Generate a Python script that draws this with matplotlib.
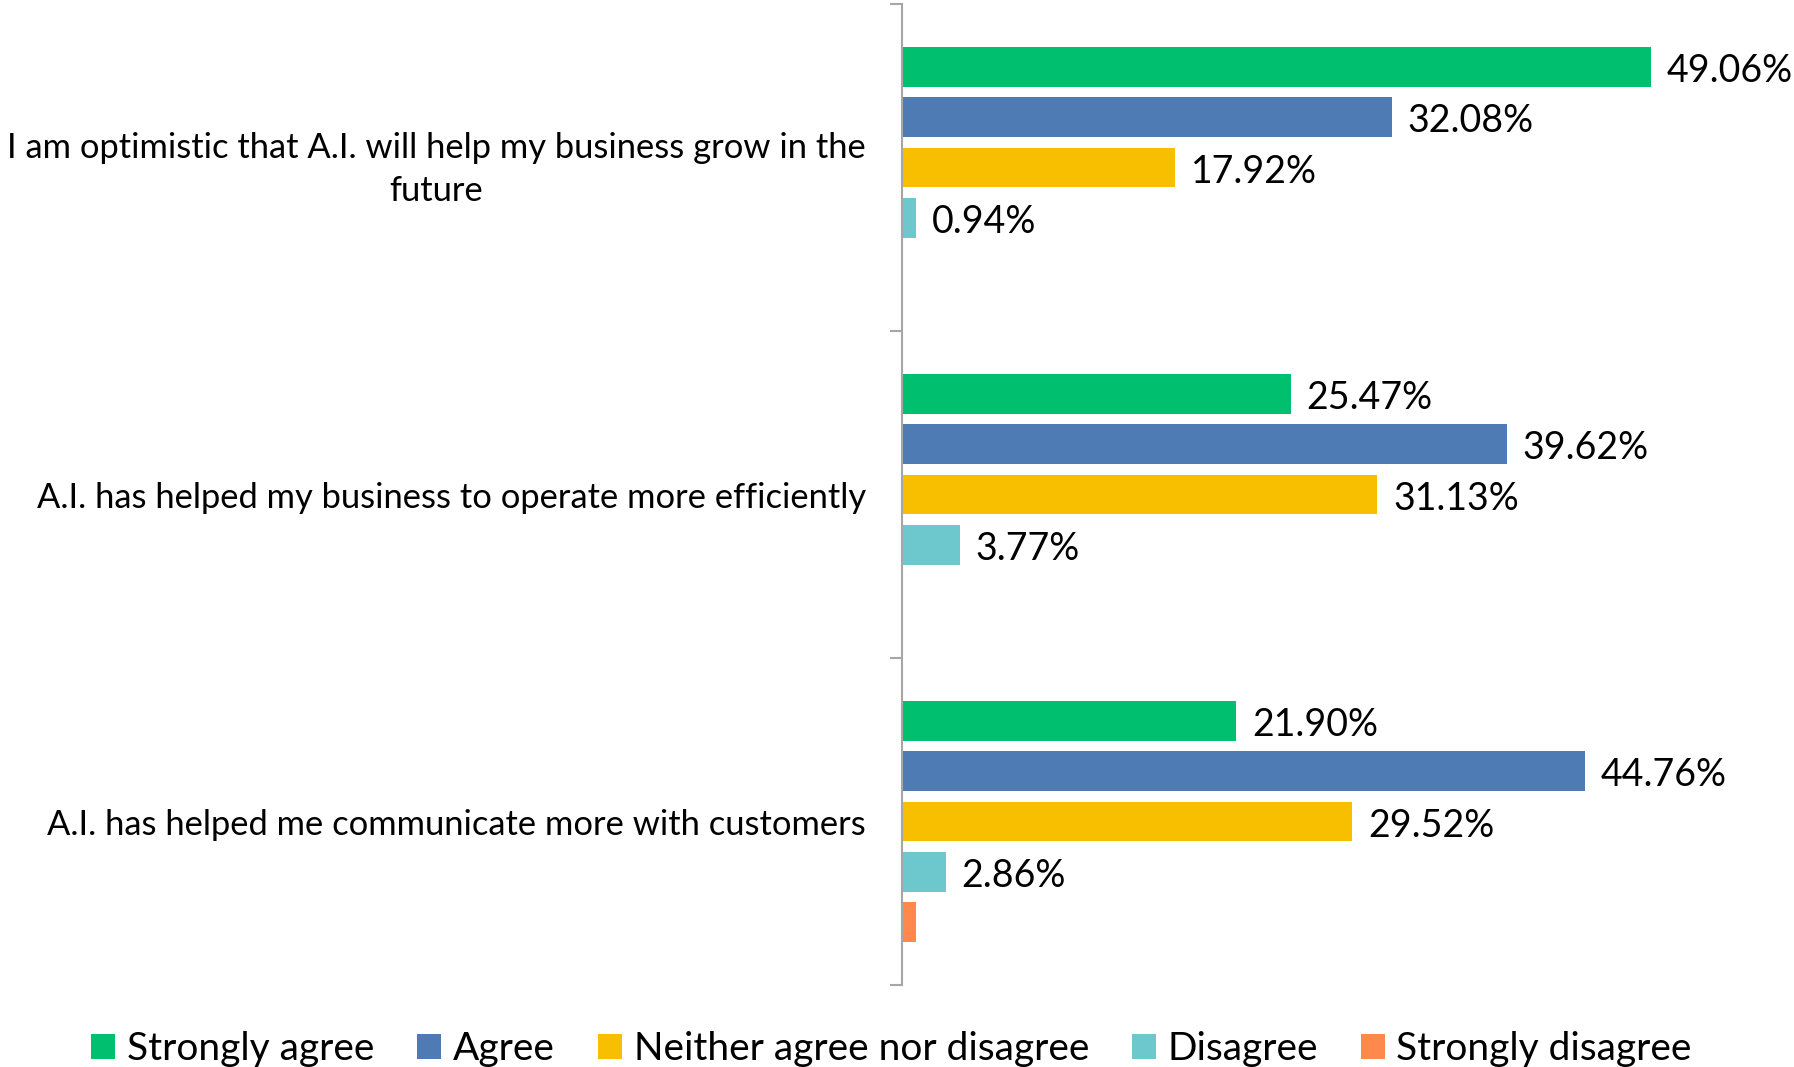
import matplotlib
matplotlib.use("Agg")
import matplotlib.pyplot as plt
import matplotlib.transforms as mtransforms
import numpy as np

plt.rcParams['font.family'] = ['Lato', 'DejaVu Sans']

categories = [
    "I am optimistic that A.I. will help my business grow in the\nfuture",
    "A.I. has helped my business to operate more efficiently",
    "A.I. has helped me communicate more with customers",
]
series_names = ["Strongly agree", "Agree", "Neither agree nor disagree", "Disagree", "Strongly disagree"]
strongly_agree = [49.06, 25.47, 21.90]
agree = [32.08, 39.62, 44.76]
neither = [17.92, 31.13, 29.52]
disagree = [0.94, 3.77, 2.86]
strongly_disagree = [0.0, 0.0, 0.95]
show_label = [
    [True, True, True],
    [True, True, True],
    [True, True, True],
    [True, True, True],
    [False, False, False],
]
colors = ["#00BF6F", "#4F7BB5", "#F8BF00", "#6CC8CC", "#FF894D"]

series = [strongly_agree, agree, neither, disagree, strongly_disagree]

W, H = 1794, 1067
fig = plt.figure(figsize=(W / 100, H / 100), dpi=100)
left = 902 / W
right = 1665 / W
top = 1 - 4 / H
bottom = 1 - 985 / H
ax = fig.add_axes([left, bottom, right - left, top - bottom])

fs = 27
y = np.arange(len(categories))
pitch = 0.1538
height = 0.1208
for i, (name, vals, c) in enumerate(zip(series_names, series, colors)):
    pos = y + (i - 2) * pitch
    bars = ax.barh(pos, vals, height=height, color=c, label=name)
    labels = [f"{v:.2f}%" if s else "" for v, s in zip(vals, show_label[i])]
    texts = ax.bar_label(bars, labels=labels, padding=11.5, fontsize=fs, color="black")
    for t in texts:
        t.xyann = (t.xyann[0], t.xyann[1] - 3.0)

ax.set_xlim(0, 50)
ax.set_ylim(2.5, -0.5)
for s in ["top", "right", "bottom"]:
    ax.spines[s].set_visible(False)
ax.spines["left"].set_color("#A6A6A6")
ax.spines["left"].set_linewidth(1.5)
ax.set_xticks([])
ax.set_yticks([-0.5, 0.5, 1.5, 2.5])
ax.set_yticklabels([])
ax.tick_params(axis="y", which="major", length=9, width=1.5, color="#A6A6A6", direction="out")
ax.set_yticks(y, minor=True)
ax.set_yticklabels(categories, minor=True, fontsize=24.8, multialignment="center",
                   linespacing=1.45)
ax.tick_params(axis="y", which="minor", length=0, pad=26)
first = ax.get_yticklabels(minor=True)[0]
first.set_transform(first.get_transform() + mtransforms.ScaledTranslation(0, 7 / 100, fig.dpi_scale_trans))

handles, labs = ax.get_legend_handles_labels()
fig.legend(handles, labs, loc="lower center", bbox_to_anchor=(0.497, 0.0), ncol=5,
           frameon=False, fontsize=28, handlelength=0.62, handleheight=0.62,
           handletextpad=0.3, columnspacing=1.1, borderaxespad=0, borderpad=0)

fig.savefig("out.png", dpi=100)
